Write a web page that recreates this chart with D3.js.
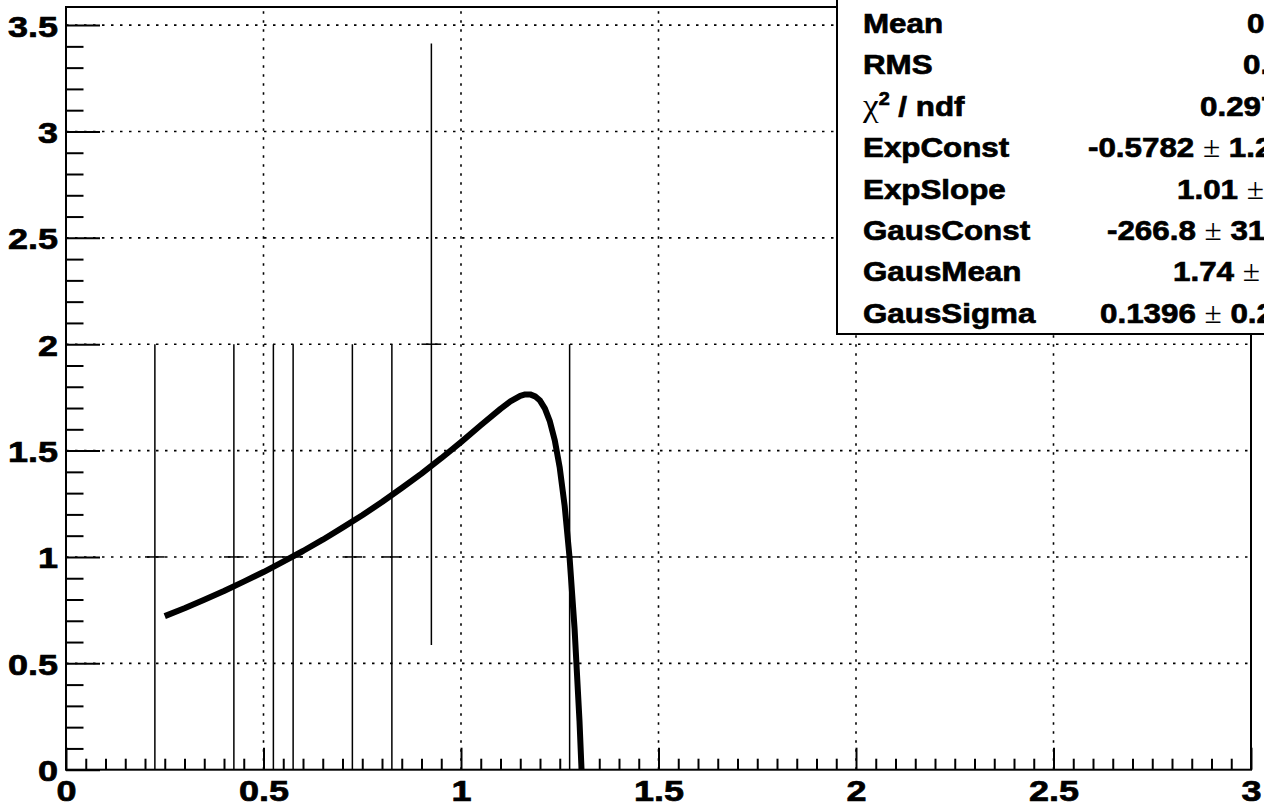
<!DOCTYPE html>
<html>
<head>
<meta charset="utf-8">
<script src="https://cdn.jsdelivr.net/npm/d3@7"></script>
<style>
  html, body { margin: 0; padding: 0; background: #fff; overflow: hidden; }
  svg { display: block; }
</style>
</head>
<body>
<svg id="chart" width="1264" height="808"></svg>
<script>
// ---- data ----
const binCenters = [0.225, 0.425, 0.525, 0.575, 0.725, 0.825, 0.925, 1.275];
const binCounts  = [1, 1, 1, 1, 1, 1, 2, 1];
const binErrors  = [1, 1, 1, 1, 1, 1, 1.414, 1];
const binHalfWidth = 0.025;

const curveX = [0.25, 0.30, 0.35, 0.40, 0.45, 0.50, 0.55, 0.60, 0.65, 0.70, 0.75, 0.80, 0.85, 0.90, 0.95, 1.00, 1.05, 1.10, 1.125, 1.15, 1.1625, 1.175, 1.1875, 1.20, 1.2125, 1.225, 1.2375, 1.25, 1.2625, 1.275, 1.2875, 1.30, 1.31];
const curveY = [0.722, 0.759, 0.799, 0.840, 0.884, 0.929, 0.978, 1.028, 1.081, 1.138, 1.196, 1.258, 1.324, 1.392, 1.464, 1.540, 1.619, 1.696, 1.731, 1.757, 1.764, 1.764, 1.755, 1.735, 1.697, 1.637, 1.547, 1.419, 1.239, 0.994, 0.664, 0.228, -0.215];

const yMajorTicks = [0, 0.5, 1, 1.5, 2, 2.5, 3, 3.5];
const xMajorTicks = [0, 0.5, 1, 1.5, 2, 2.5, 3];
const yMinorTicks = d3.range(0, 36).map(i => i / 10).filter(v => Math.abs(v * 2 - Math.round(v * 2)) > 1e-6);
const xMinorTicks = d3.range(0, 61).map(i => i / 20).filter(v => Math.abs(v * 2 - Math.round(v * 2)) > 1e-6);

const statLabels = ["Mean", "RMS", "CHI", "ExpConst", "ExpSlope", "GausConst", "GausMean", "GausSigma"];
const statValues = ["0.7139", "0.2971", "0.2977 / 3", "-0.5782 \u00b1 1.271", "1.01 \u00b1 1.093", "-266.8 \u00b1 3151", "1.74 \u00b1 1.289", "0.1396 \u00b1 0.2164"];

// ---- layout ----
const frame = { left: 66, right: 1251, top: 7, bottom: 769.7 };
const xDomain = [0, 3];
const yDomain = [0, 3.585];
const FONT = "'Liberation Sans', Arial, Helvetica, sans-serif";
const SX_TICK = 1.2;  // horizontal stretch of ROOT's axis label font
const SX_STAT = 1.1;  // horizontal stretch of ROOT's stats font
const TEXT_WEIGHT_STROKE = 0.7;

const svg = d3.select("#chart");
const x = d3.scaleLinear().domain(xDomain).range([frame.left, frame.right]);
const y = d3.scaleLinear().domain(yDomain).range([frame.bottom, frame.top]);

svg.append("rect").attr("width", 1264).attr("height", 808).attr("fill", "#fff");

svg.append("defs").append("clipPath").attr("id", "frameClip")
  .append("rect")
  .attr("x", frame.left).attr("y", frame.top)
  .attr("width", frame.right - frame.left).attr("height", frame.bottom - frame.top);

// ---- grid ----
const grid = svg.append("g").attr("stroke", "#000").attr("stroke-width", 1.6).attr("stroke-dasharray", "2.5,6.5");
grid.selectAll("line.gy").data(yMajorTicks.filter(v => v > 0)).join("line")
  .attr("x1", frame.left).attr("x2", frame.right)
  .attr("y1", d => y(d)).attr("y2", d => y(d));
grid.selectAll("line.gx").data(xMajorTicks.filter(v => v > 0 && v < 3)).join("line")
  .attr("y1", frame.bottom).attr("y2", frame.top)
  .attr("x1", d => x(d)).attr("x2", d => x(d));

// ---- axes ----
function styleAxis(g) {
  g.select(".domain").remove();
  g.selectAll(".tick line").attr("stroke", "#000").attr("stroke-width", 2);
}
const yMinor = svg.append("g").attr("transform", `translate(${frame.left},0)`)
  .call(d3.axisLeft(y).tickValues(yMinorTicks).tickSize(-17.5).tickFormat(""));
styleAxis(yMinor);
const yMajor = svg.append("g").attr("transform", `translate(${frame.left},0)`)
  .call(d3.axisLeft(y).tickValues(yMajorTicks).tickSize(-34).tickPadding(9).tickFormat(d3.format("")));
styleAxis(yMajor);
yMajor.selectAll(".tick text")
  .attr("x", null).attr("dy", null)
  .attr("transform", `translate(-8,11) scale(${SX_TICK},1)`)
  .attr("text-anchor", "end")
  .attr("font-family", FONT).attr("font-weight", "bold").attr("font-size", 30).attr("fill", "#000")
  .attr("stroke", "#000").attr("stroke-width", TEXT_WEIGHT_STROKE);

const xMinor = svg.append("g").attr("transform", `translate(0,${frame.bottom})`)
  .call(d3.axisBottom(x).tickValues(xMinorTicks).tickSize(-11).tickFormat(""));
styleAxis(xMinor);
const xMajor = svg.append("g").attr("transform", `translate(0,${frame.bottom})`)
  .call(d3.axisBottom(x).tickValues(xMajorTicks).tickSize(-22).tickFormat(d3.format("")));
styleAxis(xMajor);
xMajor.selectAll(".tick text")
  .attr("y", null).attr("dy", null)
  .attr("transform", `translate(0,31.5) scale(${SX_TICK},1)`)
  .attr("text-anchor", "middle")
  .attr("font-family", FONT).attr("font-weight", "bold").attr("font-size", 30).attr("fill", "#000")
  .attr("stroke", "#000").attr("stroke-width", TEXT_WEIGHT_STROKE);

// ---- error bars ----
const pts = binCenters.map((c, i) => ({ c, v: binCounts[i], e: binErrors[i] }));
const eb = svg.append("g").attr("clip-path", "url(#frameClip)").attr("stroke", "#000").attr("stroke-width", 1.5);
eb.selectAll("line.v").data(pts).join("line")
  .attr("x1", d => x(d.c)).attr("x2", d => x(d.c))
  .attr("y1", d => y(d.v - d.e)).attr("y2", d => y(d.v + d.e));
eb.selectAll("line.h").data(pts).join("line")
  .attr("x1", d => x(d.c - binHalfWidth)).attr("x2", d => x(d.c + binHalfWidth))
  .attr("y1", d => y(d.v)).attr("y2", d => y(d.v));

// ---- fit curve ----
const curve = curveX.map((cx, i) => [cx, curveY[i]]);
svg.append("g").attr("clip-path", "url(#frameClip)")
  .append("path")
  .attr("d", d3.line().x(d => x(d[0])).y(d => y(d[1]))(curve))
  .attr("fill", "none").attr("stroke", "#000").attr("stroke-width", 6)
  .attr("stroke-linejoin", "round");

// ---- frame ----
svg.append("rect")
  .attr("x", frame.left).attr("y", frame.top)
  .attr("width", frame.right - frame.left).attr("height", frame.bottom - frame.top)
  .attr("fill", "none").attr("stroke", "#000").attr("stroke-width", 2);

// ---- stats box ----
const box = { left: 837, bottom: 334 };
svg.append("rect")
  .attr("x", box.left).attr("y", -10)
  .attr("width", 600).attr("height", box.bottom + 10)
  .attr("fill", "#fff").attr("stroke", "#000").attr("stroke-width", 2);

const rowBase0 = 33, rowStep = 41.4, labelX = 863;
const valueStartX = [1247, 1243, 1200, 1088, 1177, 1107, 1173, 1100];
const stats = svg.append("g").attr("font-family", FONT).attr("font-weight", "bold").attr("font-size", 28.5)
  .attr("fill", "#000").attr("stroke", "#000").attr("stroke-width", TEXT_WEIGHT_STROKE);

statLabels.forEach((lab, i) => {
  const t = stats.append("text")
    .attr("transform", `translate(${labelX},${rowBase0 + i * rowStep}) scale(${SX_STAT},1)`);
  if (lab === "CHI") {
    t.append("tspan").attr("font-family", "'Liberation Serif', 'DejaVu Serif', serif").attr("font-weight", "normal").attr("font-size", 32).attr("stroke-width", 0).text("\u03c7");
    t.append("tspan").attr("font-size", 18).attr("dy", -11).text("2");
    t.append("tspan").attr("dy", 11).text(" / ndf");
  } else {
    t.text(lab);
  }
});

statValues.forEach((val, i) => {
  const t = stats.append("text")
    .attr("transform", `translate(${valueStartX[i]},${rowBase0 + i * rowStep}) scale(${SX_STAT},1)`);
  const parts = val.split("\u00b1");
  t.append("tspan").text(parts[0]);
  if (parts.length > 1) {
    t.append("tspan").attr("font-family", "'Liberation Serif', 'DejaVu Serif', serif").attr("font-weight", "normal").attr("stroke-width", 0).text("\u00b1");
    t.append("tspan").text(parts[1]);
  }
});
</script>
</body>
</html>
